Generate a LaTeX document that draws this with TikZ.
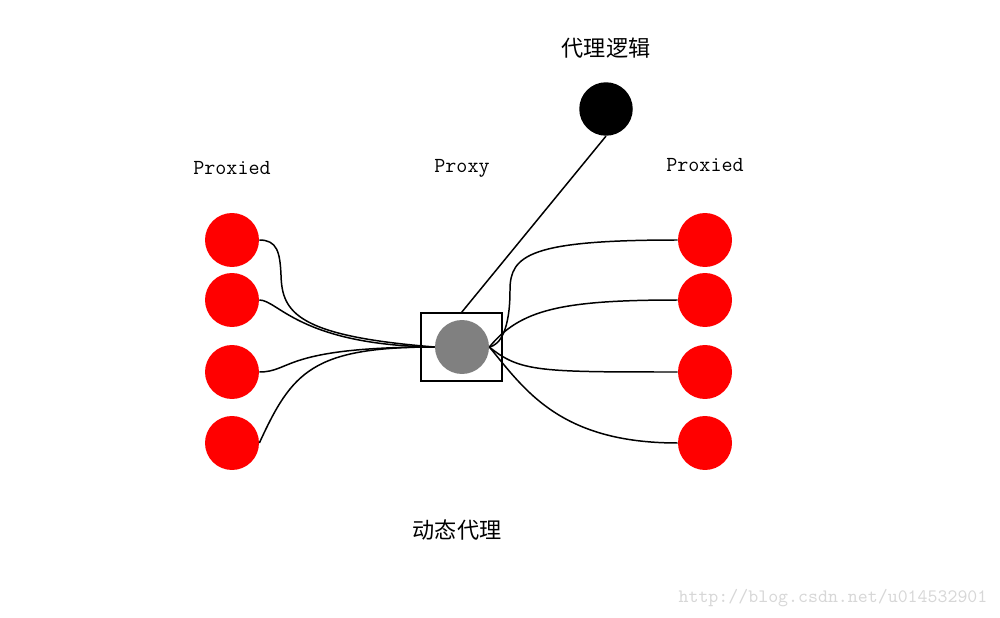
\documentclass[tikz,border=0pt]{standalone}
\usepackage{fontspec}
\newfontfamily\cjk{Noto Sans CJK SC}
\begin{document}
\begin{tikzpicture}[x=0.02cm,y=-0.02cm,
  proxied/.style={circle,fill=red,minimum size=1.08cm,inner sep=0pt},
  link/.style={line width=0.85pt},
  lbl/.style={font=\ttfamily\fontsize{12.2}{14}\selectfont,inner sep=0pt},
  cjklbl/.style={font=\cjk\fontsize{12.6}{14}\selectfont,inner sep=0pt}]
\useasboundingbox (0,0) rectangle (1000,618);
% nodes
\node[proxied] (L1) at (232,240) {};
\node[proxied] (L2) at (232,300) {};
\node[proxied] (L3) at (232,372) {};
\node[proxied] (L4) at (232,443) {};
\node[proxied] (R1) at (705,240) {};
\node[proxied] (R2) at (705,300) {};
\node[proxied] (R3) at (705,372) {};
\node[proxied] (R4) at (705,443) {};
\node[draw,line width=0.6pt,minimum width=1.62cm,minimum height=1.36cm,inner sep=0pt] (B) at (461.5,347) {};
\node[circle,fill=gray,minimum size=1.08cm,inner sep=0pt] (P) at (462,347) {};
\node[circle,fill=black,minimum size=1.07cm,inner sep=0pt] (K) at (606,109) {};
% labels
\node[lbl] (t1) at (232,168) {Proxied};
\node[lbl] (t2) at (462,168) {Proxy};
\node[lbl] (t3) at (705,165) {Proxied};
\node[cjklbl] (t4) at (606,48) {代理逻辑};
\node[cjklbl] (t5) at (457,530) {动态代理};
\node[font=\ttfamily\fontsize{10.8}{12}\selectfont,text={rgb,255:red,215;green,215;blue,215},inner sep=0pt] (wm) at (833,598) {http://blog.csdn.net/u014532901};
% connectors
\draw[link] (K.south) -- (B.north);
\draw[link] (L1.east) .. controls (277,240) and (280,252) .. (281,275)
            .. controls (282,312) and (296,336) .. (P.west);
\draw[link] (L2.east) .. controls (278,300) and (300,345) .. (P.west);
\draw[link] (L3.east) .. controls (292,372) and (282,347) .. (P.west);
\draw[link] (L4.east) .. controls (292,372) and (312,347) .. (P.west);
\draw[link] (P.east) .. controls (500,345) and (510,330) .. (510,290)
            .. controls (510,255) and (530,240) .. (R1.west);
\draw[link] (P.east) .. controls (520,310) and (560,300) .. (R2.west);
\draw[link] (P.east) .. controls (520,372) and (540,372) .. (R3.west);
\draw[link] (P.east) .. controls (525,390) and (560,443) .. (R4.west);
\end{tikzpicture}
\end{document}
